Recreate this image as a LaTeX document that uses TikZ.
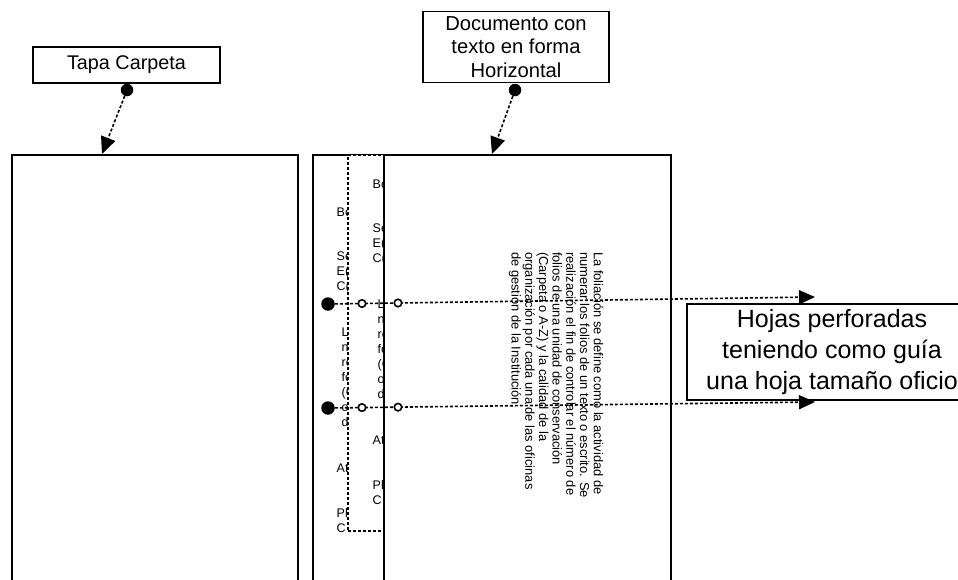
\documentclass[tikz,border=0pt]{standalone}
\usepackage{fontspec}
\setmainfont{Liberation Sans}
\usetikzlibrary{arrows.meta,calc}

% fragments of a horizontally written letter, seen at the left edge of a sheet
\newcommand\sheettext[1]{%
  \node[frag] at ($(#1)+(23.5,61)$)  {Bo};
  \node[frag] at ($(#1)+(23.5,105)$) {Se};
  \node[frag] at ($(#1)+(23.5,120)$) {E(};
  \node[frag] at ($(#1)+(23.5,135)$) {C(};
  \node[frag] at ($(#1)+(28.5,181)$) {L};
  \node[frag] at ($(#1)+(28.5,196)$) {n};
  \node[frag] at ($(#1)+(28.5,211)$) {re};
  \node[frag] at ($(#1)+(28.5,226)$) {fo};
  \node[frag] at ($(#1)+(28.5,241)$) {(C};
  \node[frag] at ($(#1)+(28.5,256)$) {o};
  \node[frag] at ($(#1)+(28.5,271)$) {d};
  \node[frag] at ($(#1)+(23.5,317)$) {At};
  \node[frag] at ($(#1)+(23.5,362)$) {Pl};
  \node[frag] at ($(#1)+(23.5,377)$) {C};
}

\begin{document}
\begin{tikzpicture}[x=1pt,y=-1pt,
  sheet/.style={draw, fill=white, line width=1.5pt, minimum width=286pt,
    minimum height=460pt, anchor=north west, inner sep=0pt, outer sep=0pt},
  dotted sheet/.style={sheet, line width=1.6pt, dash pattern=on 3pt off 2pt},
  caption box/.style={draw, fill=white, line width=1.3pt, align=center, inner sep=0pt},
  pin/.style={circle, fill=black, inner sep=0pt, minimum size=13.5pt},
  hole/.style={circle, draw, fill=white, line width=1.6pt, inner sep=0pt, minimum size=7.5pt},
  pointer/.style={line width=1.6pt, dash pattern=on 3pt off 2pt,
    -{Triangle[length=17pt,width=15pt]}},
  guide/.style={line width=1.6pt, dash pattern=on 3pt off 2pt,
    -{Triangle[length=16pt,width=14pt]}},
  frag/.style={anchor=base west, inner sep=0pt, font=\fontsize{12.5}{14}\selectfont},
]
\useasboundingbox (0,0) rectangle (958,579);
\clip (0,0) rectangle (958,579);

% folder cover
\node[sheet] (cover) at (12,155) {};

% stack of sheets
\node[sheet] (sheetA) at (313,155) {};
\sheettext{313,155}
\node[dotted sheet, minimum height=376pt] (sheetB) at (348,155) {};
\sheettext{349,127}
\node[sheet, minimum width=287pt] (sheetC) at (384,155) {};

% document text written along the sheet
\node[rotate=-90, anchor=north west, align=left, inner sep=0pt,
      font=\fontsize{12.9}{13.7}\selectfont] (body) at (603.5,252)
  {La foliación se define como la actividad de\\
   numerar los folios de un texto o escrito. Se\\
   realización el fin de controlar el número de\\
   folios de una unidad de conservación\\
   (Carpeta o A-Z) y la calidad de la\\
   organización por cada una de las oficinas\\
   de gestión de la Institución.};

% captions
\node[caption box, minimum width=187pt, minimum height=36pt,
      font=\fontsize{19.8}{23.5}\selectfont] (tapa) at (126.5,65) {Tapa Carpeta};
\node[caption box, minimum width=186pt, minimum height=71pt,
      font=\fontsize{20.2}{23.5}\selectfont] (doc) at (516,47)
  {Documento con\\texto en forma\\Horizontal};
\node[caption box, minimum width=290pt, minimum height=96pt,
      font=\fontsize{25}{31}\selectfont] (holes) at (832,352)
  {Hojas perforadas\\teniendo como guía\\una hoja tamaño oficio};

% pointers from the captions
\node[pin, minimum size=12.5pt] (tapapin) at (127,90) {};
\node[pin, minimum size=12.5pt] (docpin) at (515,90) {};
\coordinate (tapatip) at (102,154);
\coordinate (doctip) at (492,154);
\draw[pointer] (tapapin) -- (tapatip);
\draw[pointer] (docpin) -- (doctip);

% perforation guides
\node[pin] (punch1) at (328,304) {};
\node[pin] (punch2) at (328,408) {};
\coordinate (end1) at (815,297);
\coordinate (end2) at (815,402);
\draw[guide] (punch1) -- (end1);
\draw[guide] (punch2) -- (end2);
\node[hole] (holeB1) at ($(punch1)!0.0698!(end1)$) {};
\node[hole] (holeC1) at ($(punch1)!0.1437!(end1)$) {};
\node[hole] (holeB2) at ($(punch2)!0.0698!(end2)$) {};
\node[hole] (holeC2) at ($(punch2)!0.1437!(end2)$) {};
\end{tikzpicture}
\end{document}
